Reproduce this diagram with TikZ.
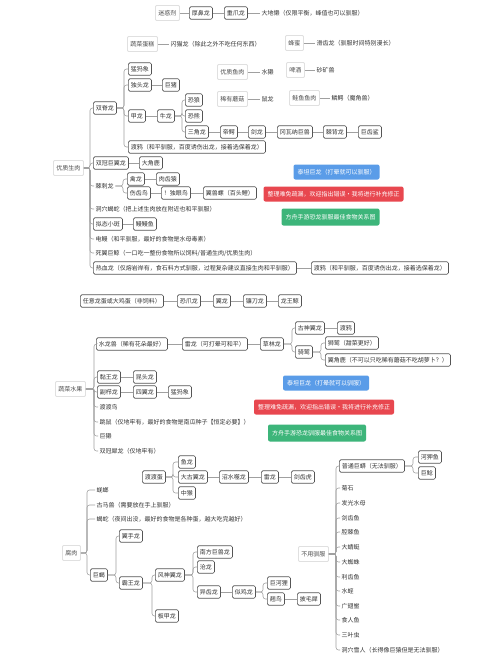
\documentclass[tikz,border=0pt]{standalone}
\usepackage{fontspec}
\newfontfamily\cjk{Noto Sans CJK SC}
\definecolor{bd}{HTML}{555555}
\definecolor{ln}{HTML}{A0A0A0}
\definecolor{tx}{HTML}{333333}
\definecolor{cblue}{HTML}{5A9CE8}
\definecolor{cred}{HTML}{E8474F}
\definecolor{cgreen}{HTML}{3DB57A}
\newcommand\lk[2]{\draw[conn] (#1.east) -- (#2.west);}
\newcommand\mybr[3]{\draw[conn] (#1.east) -- (#2 |- #1.east) |- (#3.west);}
\begin{document}
\begin{tikzpicture}[x=1pt,y=-1pt,
 base/.style={font=\cjk\fontsize{6}{7}\selectfont, text=tx, anchor=west, inner sep=0pt},
 bx/.style={base, draw=bd, line width=0.65pt, fill=white, rounded corners=1.5pt, inner xsep=2.6pt, minimum height=12.5pt},
 fb/.style={base, draw=black!12, line width=0.9pt, fill=white, rounded corners=1pt, inner xsep=3pt, minimum height=15pt, text=black!70},
 tt/.style={base, inner xsep=1.5pt, minimum height=10pt},
 cb/.style={font=\cjk\fontsize{6}{7}\selectfont, text=white, rounded corners=2pt, inner xsep=4pt, inner ysep=0pt, minimum height=15pt},
 conn/.style={draw=ln, line width=0.55pt, rounded corners=2.5pt}]
\useasboundingbox[fill=white] (0,0) rectangle (500,667);

% ---- top rows
\node[fb] (r1a) at (155,13) {迷惑剂};
\node[bx] (r1b) at (189,13) {厚鼻龙};
\node[bx] (r1c) at (224,13) {重爪龙};
\node[tt] (r1t) at (260,13) {大地懒（仅限平衡，峰值也可以驯服）};
\lk{r1a}{r1b}\lk{r1b}{r1c}\lk{r1c}{r1t}

\node[fb] (r2a) at (127,44) {蔬菜蛋糕};
\node[tt] (r2t) at (169,44) {闪猫龙（除此之外不吃任何东西）};
\lk{r2a}{r2t}
\node[fb] (r2b) at (285,43) {蜂蜜};
\node[tt] (r2u) at (315,43) {滑齿龙（驯服时间特别漫长）};
\lk{r2b}{r2u}

\node[fb] (r3a) at (217,72) {优质鱼肉};
\node[tt] (r3t) at (260,72) {水獭};
\lk{r3a}{r3t}
\node[fb] (r3b) at (286,70) {啤酒};
\node[tt] (r3u) at (315,70) {砂矿兽};
\lk{r3b}{r3u}

\node[fb] (r4a) at (217,99) {稀有蘑菇};
\node[tt] (r4t) at (260,99) {鼠龙};
\lk{r4a}{r4t}
\node[fb] (r4b) at (289,98) {鲑鱼鱼肉};
\node[tt] (r4u) at (330,98) {鳞鳄（魔角兽）};
\lk{r4b}{r4u}

% ---- 优质生肉
\coordinate (v1) at (90,0);
\coordinate (v2) at (124,0);
\coordinate (v3) at (182,0);
\coordinate (v4) at (123,0);
\node[fb] (m) at (53,168) {优质生肉};
\node[bx] (a1) at (93,108) {双脊龙};
\node[bx] (a2) at (93,163) {双冠巨翼龙};
\node[tt] (a3) at (94,186) {棘刺龙};
\node[tt] (a4) at (94,209) {洞穴蝎蛇（把上述生肉放在附近也和平驯服）};
\node[bx] (a5) at (93,224) {拟态小斑};
\node[tt] (a6) at (94,239) {电鳗（和平驯服，最好的食物是水母毒素）};
\node[tt] (a7) at (94,253) {死翼巨鲸（一口吃一整份食物所以饲料/普通生肉/优质生肉）};
\node[bx] (a8) at (93,268) {热血龙（仅熔岩岸有，食石料方式驯服，过程复杂建议直接生肉和平驯服）};
\foreach \c in {a1,a2,a3,a4,a5,a6,a7,a8} {\mybr{m}{v1}{\c}}

\node[bx] (b1) at (128,69) {猛犸象};
\node[bx] (b2) at (128,85) {独头龙};
\node[bx] (b2a) at (162,85) {巨猪};
\node[bx] (b3) at (128,116) {甲龙};
\node[bx] (b3a) at (157,116) {牛龙};
\node[bx] (b4) at (128,147) {渡鸦（和平驯服，百度诱伤出龙，接着选保着龙）};
\foreach \c in {b1,b2,b3,b4} {\mybr{a1}{v2}{\c}}
\lk{b2}{b2a}\lk{b3}{b3a}

\node[bx] (c1) at (185,100) {恐狼};
\node[bx] (c2) at (185,116) {恐熊};
\node[bx] (c3) at (185,132) {三角龙};
\foreach \c in {c1,c2,c3} {\mybr{b3a}{v3}{\c}}
\node[bx] (c4) at (220,132) {帝鳄};
\node[bx] (c5) at (248,132) {剑龙};
\node[bx] (c6) at (277,132) {冈瓦纳巨兽};
\node[bx] (c7) at (323,132) {棘背龙};
\node[bx] (c8) at (358,132) {巨齿鲨};
\lk{c3}{c4}\lk{c4}{c5}\lk{c5}{c6}\lk{c6}{c7}\lk{c7}{c8}

\node[bx] (a2a) at (139,163) {大角鹿};
\lk{a2}{a2a}
\node[bx] (d1) at (127,179) {禽龙};
\node[bx] (d1a) at (156,179) {肉齿猿};
\node[bx] (d2) at (127,193) {伤齿鸟};
\node[bx] (d2a) at (161,193) {！独眼鸟};
\node[bx] (d2b) at (203,193) {翼兽螺（百头鲤）};
\mybr{a3}{v4}{d1}\mybr{a3}{v4}{d2}
\lk{d1}{d1a}\lk{d2}{d2a}\lk{d2a}{d2b}
\node[bx] (a5a) at (133,224) {鳗鳗鱼};
\lk{a5}{a5a}
\node[bx] (a8a) at (311,268) {渡鸦（和平驯服，百度诱伤出龙，接着选保着龙）};
\lk{a8}{a8a}

% ---- coloured notes 1
\node[cb, fill=cblue] (k1) at (336.5,172) {泰坦巨龙（打晕就可以驯服）};
\node[cb, fill=cred] (k2) at (333.5,194) {整理难免疏漏，欢迎指出错误·我将进行补充修正};
\node[cb, fill=cgreen, minimum height=17pt] (k3) at (330.5,217) {方舟手游恐龙驯服最佳食物关系图};

% ---- 龙蛋
\node[bx] (s1) at (80,301) {任意龙蛋或大鸡蛋（非饲料）};
\node[bx] (s2) at (177,301) {恐爪龙};
\node[bx] (s3) at (213,301) {翼龙};
\node[bx] (s4) at (243,301) {镰刀龙};
\node[bx] (s5) at (278,301) {龙王鲸};
\lk{s1}{s2}\lk{s2}{s3}\lk{s3}{s4}\lk{s4}{s5}

% ---- 蔬菜水果
\coordinate (w1) at (94,0);
\coordinate (w2) at (292,0);
\coordinate (w3) at (321,0);
\node[fb] (v) at (55,389) {蔬菜水果};
\node[bx] (e1) at (96,344) {水龙兽（稀有花朵最好）};
\node[bx] (e2) at (97,377) {黏王龙};
\node[bx] (e3) at (97,392) {副栉龙};
\node[tt] (e4) at (98,407) {渡渡鸟};
\node[tt] (e5) at (98,422) {跳鼠（仅地牢有，最好的食物是南瓜种子【恒定必要】）};
\node[tt] (e6) at (98,436) {巨獭};
\node[tt] (e7) at (98,451) {双冠犀龙（仅地牢有）};
\foreach \c in {e1,e2,e3,e4,e5,e6,e7} {\mybr{v}{w1}{\c}}
\node[bx] (e1a) at (182,344) {雷龙（可打晕可和平）};
\node[bx] (e1b) at (260,344) {草林龙};
\lk{e1}{e1a}\lk{e1a}{e1b}
\node[bx] (g1) at (295,328) {古神翼龙};
\node[bx] (g1a) at (337,328) {渡鸦};
\node[bx] (g2) at (295,352) {骑鹫};
\mybr{e1b}{w2}{g1}\mybr{e1b}{w2}{g2}
\lk{g1}{g1a}
\node[bx] (g3) at (325,343) {狮鹫（甜菜更好）};
\node[bx] (g4) at (325,360) {翼角鹿（不可以只吃稀有蘑菇不吃胡萝卜？）};
\mybr{g2}{w3}{g3}\mybr{g2}{w3}{g4}
\node[bx] (e2a) at (133,377) {昆头龙};
\lk{e2}{e2a}
\node[bx] (e3a) at (133,392) {四翼龙};
\node[bx] (e3b) at (168,392) {猛犸象};
\lk{e3}{e3a}\lk{e3a}{e3b}

% ---- coloured notes 2
\node[cb, fill=cblue] (k4) at (326,383) {泰坦巨龙（打晕就可以驯服）};
\node[cb, fill=cred] (k5) at (324,407) {整理难免疏漏，欢迎指出错误·我将进行补充修正};
\node[cb, fill=cgreen, minimum height=17pt] (k6) at (317,433) {方舟手游恐龙驯服最佳食物关系图};

% ---- 渡渡蛋
\coordinate (x1) at (173,0);
\node[bx] (f) at (142,477) {渡渡蛋};
\node[bx] (f1) at (178,462) {鱼龙};
\node[bx] (f2) at (178,477) {大古翼龙};
\node[bx] (f3) at (178,493) {中猴};
\foreach \c in {f1,f2,f3} {\mybr{f}{x1}{\c}}
\node[bx] (f2a) at (219,477) {沼水噬龙};
\node[bx] (f2b) at (261,477) {雷龙};
\node[bx] (f2c) at (291,477) {剑齿虎};
\lk{f2}{f2a}\lk{f2a}{f2b}\lk{f2b}{f2c}

% ---- 不用驯服
\coordinate (y1) at (336,0);
\coordinate (y2) at (413,0);
\node[fb] (n) at (298,554) {不用驯服};
\node[bx] (n0) at (339,466) {普通巨蟒（无法驯服）};
\mybr{n}{y1}{n0}
\node[bx] (n0a) at (418,457) {河狎鱼};
\node[bx] (n0b) at (418,473) {巨鲶};
\mybr{n0}{y2}{n0a}\mybr{n0}{y2}{n0b}
\foreach \t/\yy [count=\i] in {菊石/488,发光水母/503,剑齿鱼/518,腔棘鱼/532,大蜻蜓/547,大蜘蛛/562,利齿鱼/577,水蛭/591,广翅鲎/606,食人鱼/620,三叶虫/635,洞穴雪人（长得像巨猿但是无法驯服）/650}
 {\node[tt] (n\i) at (340,\yy) {\t}; \mybr{n}{y1}{n\i}}

% ---- 腐肉
\coordinate (z1) at (87,0);
\coordinate (z2) at (116,0);
\coordinate (z3) at (152,0);
\coordinate (z4) at (193,0);
\coordinate (z5) at (263,0);
\node[fb] (h) at (62,553) {腐肉};
\node[tt] (h1) at (95,490) {蜣螂};
\node[tt] (h2) at (95,505) {古马兽（需要放在手上驯服）};
\node[tt] (h3) at (95,519) {蝎蛇（夜间出没，最好的食物是各种蛋，越大吃完越好）};
\node[bx] (h4) at (90,575) {巨蝎};
\foreach \c in {h1,h2,h3,h4} {\mybr{h}{z1}{\c}}
\node[bx] (i1) at (119,536) {翼手龙};
\node[bx] (i2) at (119,583) {霸王龙};
\mybr{h4}{z2}{i1}\mybr{h4}{z2}{i2}
\node[bx] (j1) at (155,575) {风神翼龙};
\node[bx] (j2) at (155,616) {板甲龙};
\mybr{i2}{z3}{j1}\mybr{i2}{z3}{j2}
\node[bx] (q1) at (197,552) {南方巨兽龙};
\node[bx] (q2) at (197,567) {沧龙};
\node[bx] (q3) at (197,592) {异齿龙};
\foreach \c in {q1,q2,q3} {\mybr{j1}{z4}{\c}}
\node[bx] (q3a) at (232,592) {似鸡龙};
\lk{q3}{q3a}
\node[bx] (p1) at (267,583) {巨河狸};
\node[bx] (p2) at (267,599) {翘鸟};
\node[bx] (p2a) at (297,599) {披毛犀};
\mybr{q3a}{z5}{p1}\mybr{q3a}{z5}{p2}
\lk{p2}{p2a}
\end{tikzpicture}
\end{document}
